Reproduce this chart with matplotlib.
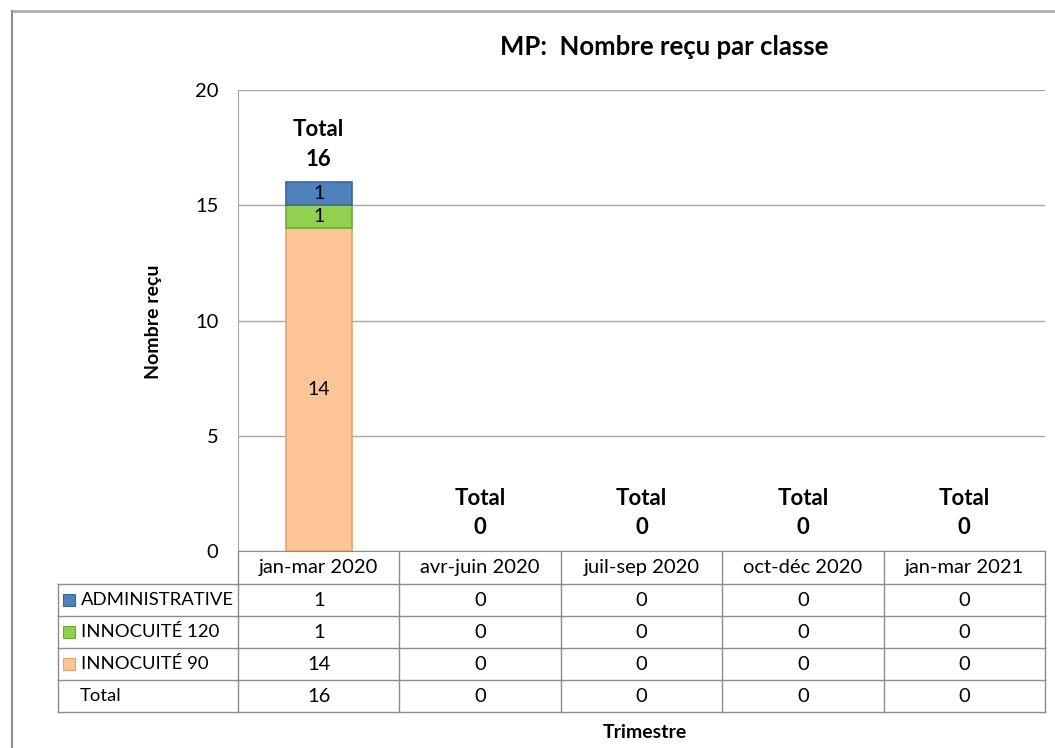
import matplotlib.pyplot as plt
from matplotlib.lines import Line2D
from matplotlib.patches import Rectangle
from matplotlib.transforms import blended_transform_factory
import numpy as np

plt.rcParams["font.family"] = ["Lato", "DejaVu Sans"]

W, H = 1055, 748

quarters = ["jan-mar 2020", "avr-juin 2020", "juil-sep 2020", "oct-déc 2020", "jan-mar 2021"]
administrative = [1, 0, 0, 0, 0]
innocuite_120 = [1, 0, 0, 0, 0]
innocuite_90 = [14, 0, 0, 0, 0]
totals = [16, 0, 0, 0, 0]

series_names = ["ADMINISTRATIVE", "INNOCUITÉ 120", "INNOCUITÉ 90"]
series_values = [administrative, innocuite_120, innocuite_90]
series_colors = ["#4F81BD", "#92D050", "#FCC596"]
series_edges = ["#3A6699", "#6FA83A", "#E3A46C"]
yticks = [0, 5, 10, 15, 20]

GRID = "#A6A6A6"
TABLE_LINE = "#8C8C8C"
TABLE_FONT = 14.5
ROW_LABEL_FONT = 13.3


def fx(px):
    return px / W


def fy(py):
    return 1 - py / H


fig = plt.figure(figsize=(W / 100, H / 100), dpi=100)
ax = fig.add_axes([fx(238), fy(551), fx(1045) - fx(238), fy(90) - fy(551)])

x = np.arange(len(quarters))
bar_width = 0.41

# stacked bars, bottom -> top: INNOCUITÉ 90, INNOCUITÉ 120, ADMINISTRATIVE
bottom = np.zeros(len(quarters))
for name, values, color, edge in reversed(list(zip(series_names, series_values, series_colors, series_edges))):
    vals = np.array(values, dtype=float)
    shown = vals > 0
    ax.bar(x[shown], vals[shown], bar_width, bottom=bottom[shown], color=color, edgecolor=edge,
           linewidth=1.2, zorder=3)
    for xi, v, b in zip(x, vals, bottom):
        if v > 0:
            ax.text(xi, b + v / 2, f"{int(v)}", ha="center", va="center", fontsize=14, zorder=4)
    bottom += vals

for xi, t in zip(x, totals):
    ax.annotate(f"Total\n{t}", (xi, t), xytext=(0, 9), textcoords="offset points",
                ha="center", va="bottom", fontsize=16, fontweight="bold", linespacing=1.5)

ax.set_xlim(-0.5, len(quarters) - 0.5)
ax.set_ylim(0, 20)
ax.set_yticks(yticks)
ax.set_yticklabels([str(v) for v in yticks], fontsize=TABLE_FONT)
ax.set_xticks([])
ax.tick_params(axis="y", length=0, pad=14)
ax.yaxis.grid(True, color=GRID, linewidth=1)
ax.set_axisbelow(True)
for side in ["top", "right"]:
    ax.spines[side].set_visible(False)
ax.spines["left"].set_color(GRID)
ax.spines["bottom"].set_color(TABLE_LINE)

fig.text(fx(664), fy(47), "MP:  Nombre reçu par classe", ha="center", va="center",
         fontsize=18.5, fontweight="bold")
fig.text(fx(154), fy(322), "Nombre reçu", ha="center", va="center", rotation=90,
         fontsize=14, fontweight="bold")
fig.text(fx(645), fy(732), "Trimestre", ha="center", va="center", fontsize=14, fontweight="bold")

# outer chart frame (top and left edges)
fig.add_artist(Line2D([fx(12), fx(1055)], [fy(11), fy(11)], color="#A6A6A6", linewidth=1.8))
fig.add_artist(Line2D([fx(12), fx(12)], [fy(11), fy(748)], color="#8C8C8C", linewidth=1.5))

# data table under the axis
tr = blended_transform_factory(ax.transData, fig.transFigure)
row_edges = [551, 584, 616, 648, 680, 712]
table_left = 58
col_edges = np.arange(len(quarters) + 1) - 0.5
x_left_data = ax.transData.inverted().transform((table_left, 0))[0]

for ce in col_edges:
    fig.add_artist(Line2D([ce, ce], [fy(row_edges[0]), fy(row_edges[-1])], transform=tr,
                          color=TABLE_LINE, linewidth=1))
fig.add_artist(Line2D([x_left_data, x_left_data], [fy(row_edges[1]), fy(row_edges[-1])], transform=tr,
                      color=TABLE_LINE, linewidth=1))
for re in row_edges[1:]:
    fig.add_artist(Line2D([x_left_data, col_edges[-1]], [fy(re), fy(re)], transform=tr,
                          color=TABLE_LINE, linewidth=1))

for xi, q in zip(x, quarters):
    fig.text(xi, fy((row_edges[0] + row_edges[1]) / 2), q, transform=tr, ha="center", va="center",
             fontsize=TABLE_FONT)

row_labels = series_names + ["Total"]
row_values = series_values + [totals]
for r, (label, values) in enumerate(zip(row_labels, row_values)):
    yc = fy((row_edges[r + 1] + row_edges[r + 2]) / 2)
    if r < len(series_names):
        fig.add_artist(Rectangle((fx(63), yc - 6 / H), 12 / W, 12 / H, transform=fig.transFigure,
                                 facecolor=series_colors[r], edgecolor=series_edges[r], linewidth=0.8))
        fig.text(fx(81), yc, label, ha="left", va="center", fontsize=ROW_LABEL_FONT)
    else:
        fig.text(fx(80), yc, label, ha="left", va="center", fontsize=ROW_LABEL_FONT)
    for xi, v in zip(x, values):
        fig.text(xi, yc, str(v), transform=tr, ha="center", va="center", fontsize=TABLE_FONT)

fig.savefig("out.png", dpi=100, facecolor="white")
